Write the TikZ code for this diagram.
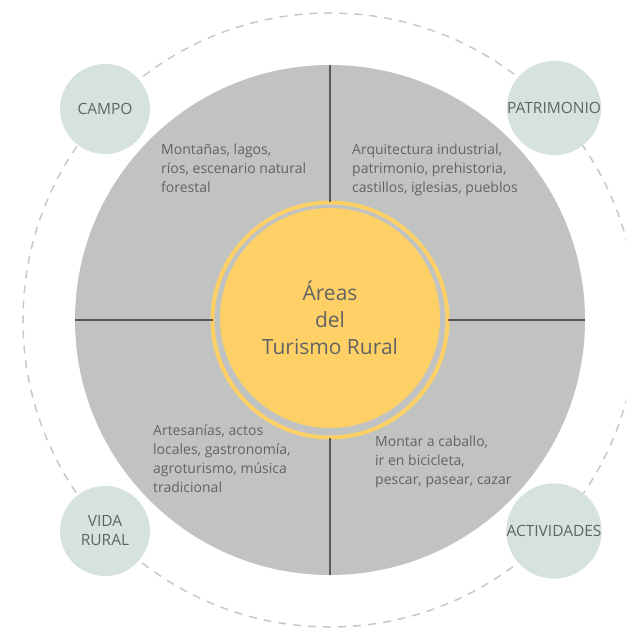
\documentclass[tikz,border=0pt]{standalone}
\usepackage{fontspec}
\setmainfont{Open Sans}
\usepackage{xcolor}
\usetikzlibrary{positioning}

\definecolor{discgray}{HTML}{C0C3C2}
\definecolor{satgreen}{HTML}{D6E2DD}
\definecolor{coreyellow}{HTML}{FFD066}
\definecolor{txtgray}{HTML}{616463}
\definecolor{dashgray}{HTML}{C6C9C8}
\definecolor{divgray}{HTML}{555857}

\tikzset{
  satellite/.style={circle, fill=satgreen, minimum size=90pt, inner sep=0pt,
    text=txtgray, font=\fontsize{15.5}{19}\selectfont, align=center},
  quadtext/.style={anchor=north west, inner sep=0pt, text=txtgray,
    font=\fontsize{14}{19}\selectfont, align=left},
}

\begin{document}
\begin{tikzpicture}[x=1pt, y=-1pt]
            \useasboundingbox (0,0) rectangle (626,628);

            % Draw the dashed orbit
            \begin{scope}
              \clip (0,0) rectangle (626,628);
              \draw[dashgray, line width=1.5pt, dash pattern=on 8pt off 7pt] (330,320) circle (307pt);
            \end{scope}

            % Draw the grey disc and its dividers
            \node (disc) at (330,320) [circle, fill=discgray, minimum size=510pt, inner sep=0pt] {};
            \node (ring) at (330,320) [circle, draw=coreyellow, line width=4pt, fill=discgray, minimum size=235pt, inner sep=0pt, outer sep=0pt] {};
            \draw[divgray, line width=2pt] (disc.north) -- (ring.north);
            \draw[divgray, line width=2pt] (disc.south) -- (ring.south);
            \draw[divgray, line width=2pt] (disc.west) -- (ring.west);
            \draw[divgray, line width=2pt] (disc.east) -- (ring.east);

            % Draw the yellow core
            \node (core) at (330,318) [circle, fill=coreyellow, minimum size=220pt, inner sep=0pt,
              text=txtgray, font=\fontsize{21}{27}\selectfont, align=center] {Áreas\\del\\Turismo Rural};

            % Draw the texts of the quadrants
            \node (natural) at (161,144) [quadtext] {Montañas, lagos,\\ríos, escenario natural\\forestal};
            \node (heritage) at (352,144) [quadtext] {Arquitectura industrial,\\patrimonio, prehistoria,\\castillos, iglesias, pueblos};
            \node (rurallife) at (153,425) [quadtext] {Artesanías, actos\\locales, gastronomía,\\agroturismo, música\\tradicional};
            \node (activities) at (375,436) [quadtext] {Montar a caballo,\\ir en bicicleta,\\pescar, pasear, cazar};

            % Draw the satellites on the orbit
            \node (campo) at (105,109) [satellite] {CAMPO};
            \node (patrimonio) at (554,108) [satellite] {PATRIMONIO};
            \node (vida) at (105,531) [satellite] {VIDA\\RURAL};
            \node (actividades) at (554,531) [satellite] {ACTIVIDADES};

        \end{tikzpicture}
\end{document}
